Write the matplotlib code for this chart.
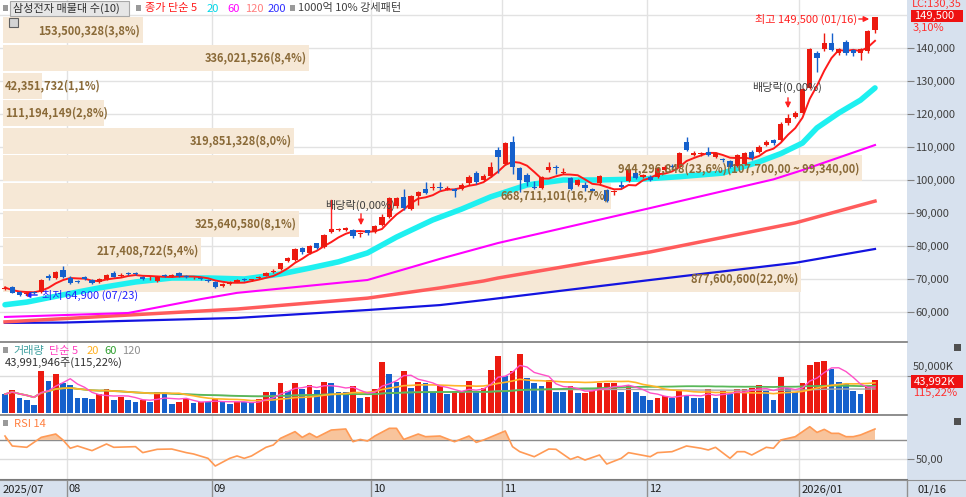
import numpy as np
import pandas as pd
import matplotlib
matplotlib.use("Agg")
import matplotlib.pyplot as plt
from matplotlib.patches import Rectangle

plt.rcParams['font.family'] = ['Noto Sans CJK KR', 'DejaVu Sans']

W, H = 966, 497

# daily candles 2025/07 ~ 2026/01/16, thousand KRW
opens = [67.0, 67.6, 66.0, 65.4, 65.9, 66.0, 70.8, 70.2, 72.7, 70.3,
         69.4, 70.6, 69.7, 69.1, 70.0, 71.8, 71.0, 71.8, 71.7, 70.7,
         70.2, 69.3, 71.2, 70.8, 71.8, 70.9, 70.2, 70.2, 69.8, 69.0,
         67.8, 68.6, 69.2, 70.0, 69.6, 70.2, 71.0, 72.2, 73.0, 75.5,
         75.9, 79.4, 78.0, 80.8, 79.8, 84.2, 84.9, 84.9, 85.0, 83.5,
         84.7, 84.3, 86.5, 88.8, 92.0, 95.0, 91.3, 95.2, 97.3, 97.5,
         98.0, 97.4, 97.2, 97.3, 99.0, 102.0, 100.0, 101.3, 109.1, 104.8,
         111.6, 103.5, 101.5, 97.9, 97.7, 103.0, 103.9, 102.0, 100.5, 98.5,
         98.5, 97.2, 99.0, 97.0, 96.3, 98.5, 99.7, 102.1, 100.9, 101.0,
         101.0, 103.0, 104.3, 104.0, 111.6, 107.6, 108.0, 108.6, 107.1, 106.3,
         105.9, 104.2, 104.8, 108.6, 108.6, 110.6, 112.1, 112.1, 117.2, 119.2,
         120.3, 128.0, 138.4, 139.6, 141.6, 138.4, 141.9, 139.4, 138.4, 139.0,
         145.5]
highs = [67.8, 67.9, 66.3, 65.9, 66.3, 70.0, 71.6, 72.3, 74.0, 70.8,
         69.8, 71.0, 70.0, 70.2, 71.5, 72.3, 71.8, 72.2, 72.0, 70.9,
         70.9, 70.9, 71.5, 71.4, 72.1, 71.2, 70.7, 70.5, 70.1, 69.3,
         68.7, 69.3, 70.1, 70.3, 70.1, 70.9, 72.0, 73.0, 75.0, 76.8,
         79.3, 79.8, 80.3, 81.0, 83.7, 85.4, 85.5, 85.8, 85.3, 84.3,
         85.0, 86.3, 89.6, 94.8, 95.0, 97.4, 95.5, 96.8, 99.4, 99.2,
         99.5, 98.2, 97.5, 99.0, 101.5, 102.8, 101.8, 105.5, 110.1, 111.5,
         113.3, 104.0, 102.0, 99.8, 101.3, 105.6, 104.4, 103.5, 100.9, 100.3,
         99.4, 97.5, 101.6, 97.3, 97.0, 99.8, 103.4, 102.5, 101.9, 101.4,
         104.0, 104.5, 104.8, 108.6, 113.0, 108.9, 108.6, 110.0, 108.5, 106.7,
         106.2, 107.9, 108.5, 109.0, 110.5, 112.0, 112.5, 117.5, 120.0, 120.8,
         128.0, 140.0, 139.0, 144.4, 144.4, 140.0, 142.5, 139.8, 140.0, 145.4,
         149.5]
lows = [66.7, 65.7, 64.9, 65.0, 65.4, 65.9, 69.8, 69.9, 70.3, 68.5,
        68.7, 69.8, 68.6, 68.9, 69.8, 70.5, 70.6, 71.2, 71.1, 69.8,
        69.8, 69.0, 70.5, 70.5, 70.7, 70.2, 70.0, 69.6, 69.2, 67.3,
        67.5, 68.3, 69.0, 69.3, 69.3, 70.0, 70.8, 71.9, 72.8, 75.2,
        75.6, 77.5, 77.7, 79.1, 79.5, 83.9, 84.6, 84.6, 82.4, 82.8,
        83.4, 84.0, 86.2, 88.5, 91.5, 91.0, 90.9, 92.5, 95.8, 97.0,
        96.9, 97.0, 94.8, 97.0, 98.5, 98.8, 99.6, 101.0, 102.0, 104.5,
        101.7, 96.5, 98.3, 97.3, 97.4, 102.4, 101.8, 101.8, 97.0, 98.2,
        96.6, 96.3, 98.6, 93.4, 95.6, 97.6, 99.4, 100.2, 100.5, 99.6,
        100.7, 102.6, 103.2, 103.6, 108.7, 107.2, 107.4, 107.2, 106.8, 105.5,
        103.6, 103.9, 104.5, 106.2, 108.2, 110.2, 110.7, 111.8, 116.8, 118.8,
        120.0, 127.6, 132.8, 139.2, 139.0, 137.8, 138.0, 137.6, 136.4, 138.6,
        144.5]
closes = [67.4, 65.9, 65.3, 65.6, 65.7, 69.7, 70.4, 72.0, 70.6, 68.8,
          69.1, 70.0, 68.9, 70.0, 71.3, 70.7, 71.2, 71.4, 71.4, 70.1,
          70.4, 70.6, 70.8, 71.1, 70.9, 70.5, 70.4, 69.9, 69.4, 67.6,
          68.5, 69.0, 69.8, 69.6, 69.9, 70.7, 71.8, 72.5, 74.8, 76.3,
          79.0, 78.1, 79.9, 79.4, 83.4, 85.1, 85.2, 85.4, 83.0, 84.0,
          83.9, 86.0, 88.9, 94.4, 94.5, 91.6, 95.1, 96.3, 96.2, 97.8,
          97.5, 97.7, 96.6, 98.6, 100.9, 99.3, 101.3, 104.0, 107.1, 111.1,
          104.0, 100.0, 99.5, 97.6, 101.0, 104.0, 103.5, 102.4, 97.3, 100.0,
          97.7, 96.8, 101.2, 93.7, 96.5, 98.0, 103.0, 100.6, 101.5, 100.0,
          103.6, 104.0, 103.8, 108.2, 109.1, 108.1, 108.1, 107.6, 108.1, 106.0,
          104.0, 107.5, 108.1, 106.6, 110.1, 111.6, 111.1, 117.0, 118.7, 120.2,
          127.5, 139.6, 136.9, 141.4, 139.4, 139.6, 138.4, 138.4, 139.6, 145.0,
          149.5]

# volume, million shares, and bar colour (r up / b down)
volume = [25.8, 31.5, 21.3, 18.2, 11.5, 56.8, 43.5, 52.4, 41.3, 37.7,
          21.3, 21.3, 19.1, 25.8, 32.4, 17.8, 22.6, 17.8, 15.5, 18.2,
          14.7, 28.0, 26.6, 12.4, 15.1, 19.1, 14.2, 15.5, 14.7, 19.1,
          16.0, 13.3, 15.1, 14.7, 13.8, 19.5, 28.0, 28.0, 40.4, 30.2,
          40.4, 33.3, 37.7, 31.5, 42.2, 40.4, 28.0, 28.0, 36.9, 21.3,
          22.6, 32.4, 68.8, 52.4, 42.2, 56.8, 34.6, 42.2, 41.3, 28.9,
          36.0, 25.8, 28.0, 28.0, 43.5, 30.2, 33.7, 57.7, 76.8, 50.2,
          56.8, 79.0, 47.1, 40.4, 36.9, 44.4, 28.9, 28.9, 36.9, 27.1,
          27.1, 30.2, 40.4, 40.4, 41.3, 28.9, 37.7, 28.0, 23.5, 18.6,
          21.3, 23.5, 20.4, 30.2, 24.9, 21.3, 20.4, 33.3, 21.3, 30.2,
          26.6, 32.0, 32.0, 34.6, 37.7, 30.2, 18.6, 48.8, 33.7, 28.0,
          41.3, 64.4, 68.8, 70.2, 59.1, 42.2, 39.1, 30.2, 25.8, 36.9,
          43.99]
vol_dir = ("brbbbrbrbb" "bbbrrbrbbr" "brbbrrbrbr" "bbrbbrrbrb" "rbrbrbbbrb"
           "rrrbbrbrbb" "rbrrrbrrrb" "rrbbbrbbrb" "rrrrrbrbbb" "rrbrbbbrbr"
           "brrrrbbrbb" "rrrrbbbbbrr")

# moving averages (bar index, thousand KRW)
ma20_idx = [0, 3, 8, 13, 18, 23, 28, 33, 38, 42, 46, 50, 54, 59, 63, 67, 72,
            77, 82, 88, 93, 99, 104, 107, 110, 112, 115, 118, 120]
ma20_val = [62.2, 63.0, 65.2, 67.3, 69.1, 70.3, 70.3, 70.0, 71.5, 73.3, 75.2,
            77.9, 82.7, 87.9, 91.2, 94.9, 98.5, 100.0, 100.0, 100.3, 101.0,
            102.1, 105.5, 108.0, 111.2, 115.8, 120.3, 124.2, 127.9]
ma60_idx = [0, 17, 27, 32, 50, 60, 68, 89, 106, 110, 120]
ma60_val = [58.5, 59.7, 63.9, 65.8, 69.7, 76.1, 80.9, 91.5, 100.2, 103.0, 110.6]
ma120_idx = [0, 32, 50, 60, 66, 68, 89, 109, 120]
ma120_val = [57.0, 60.9, 64.2, 67.3, 69.4, 70.3, 78.2, 87.0, 93.6]
ma200_idx = [0, 8, 32, 50, 60, 66, 89, 109, 120]
ma200_val = [56.7, 56.8, 58.2, 60.6, 62.1, 63.6, 69.7, 74.9, 79.1]

# RSI 14
rsi_idx = [0, 1, 3, 5, 7, 8, 9, 10, 12, 14, 15, 18, 19, 21, 23, 25, 26, 28, 29, 31,
           32, 33, 34, 36, 37, 38, 40, 41, 42, 43, 45, 47, 48, 49, 50, 51, 53, 54, 55, 57,
           58, 60, 62, 64, 65, 66, 69, 70, 71, 73, 75, 76, 78, 79, 80, 82, 83, 85, 86, 89,
           90, 92, 94, 96, 97, 98, 100, 101, 102, 103, 105, 106, 107, 109, 111, 112, 113,
           114, 115, 116, 117, 118, 120]
rsi_val = [74.2, 63.7, 62.3, 72.8, 76.3, 70.0, 61.3, 63.7, 58.8, 65.8, 62.3, 63.0, 56.7,
           60.2, 60.5, 56.7, 55.3, 50.7, 42.6, 50.7, 53.2, 50.7, 53.2, 62.3, 64.7, 71.8,
           78.8, 72.8, 77.0, 72.8, 80.5, 81.6, 68.2, 70.6, 68.9, 74.2, 82.3, 82.3, 70.6,
           76.3, 73.5, 74.2, 68.2, 74.2, 67.5, 70.0, 79.5, 63.0, 57.7, 52.4, 60.5, 60.2,
           49.6, 52.4, 48.9, 54.2, 44.7, 50.7, 56.7, 52.4, 56.7, 57.7, 63.7, 61.3, 59.5,
           62.3, 50.7, 57.7, 57.7, 54.2, 62.3, 61.3, 70.0, 73.5, 84.0, 78.0, 81.2, 77.0,
           77.0, 73.5, 73.5, 75.3, 81.6]

# volume profile (매물대 10 bands)
band_low = [65.90, 74.26, 82.62, 90.98, 99.34, 107.70, 116.06, 124.42, 132.78, 141.14]
band_step = 8.36
band_vol = [877600600, 217408722, 325640580, 668711101, 944296848,
            319851328, 111194149, 42351732, 336021526, 153500328]
band_pct = [22.0, 5.4, 8.1, 16.7, 23.6, 8.0, 2.8, 1.1, 8.4, 3.8]

month_idx = [9, 29, 51, 69, 89, 110]
month_lab = ['08', '09', '10', '11', '12', '2026/01']
price_ticks = [60, 70, 80, 90, 100, 110, 120, 130, 140]

UP = '#ec1a10'
DOWN = '#1560cc'


def rect(x0, y0, x1, y1):
    return [x0 / W, 1 - y1 / H, (x1 - x0) / W, (y1 - y0) / H]


def fx(x):
    return x / W


def fy(y):
    return 1 - y / H


fig = plt.figure(figsize=(W / 100, H / 100), dpi=100)
fig.patch.set_facecolor('white')

# background strips
side = fig.add_axes(rect(907, 0, 966, 480))
side.set_facecolor('#d7e1ee')
side.set_xticks([]); side.set_yticks([])
for s in side.spines.values():
    s.set_visible(False)
side.set_zorder(-1)

bottom = fig.add_axes(rect(0, 480, 966, 497))
bottom.set_facecolor('#d7e1ee')
bottom.set_xlim(0, W); bottom.set_ylim(0, 1)
bottom.set_xticks([]); bottom.set_yticks([])
for s in bottom.spines.values():
    s.set_visible(False)
bottom.spines['top'].set_visible(True)
bottom.spines['top'].set_color('#909090')
bottom.set_zorder(-1)

axp = fig.add_axes(rect(0, 0, 907, 341))
axv = fig.add_axes(rect(0, 342, 907, 414))
axr = fig.add_axes(rect(0, 415, 907, 479))

x = np.arange(len(closes))
xlim = (-5 / 7.25, (907 - 5) / 7.25)
grid_x = [m - 0.45 for m in month_idx]

for ax in (axp, axv, axr):
    ax.set_xlim(*xlim)
    ax.set_xticks([])
    for s in ax.spines.values():
        s.set_visible(False)
    ax.yaxis.tick_right()
    ax.tick_params(axis='y', direction='out', length=5, width=0.8, color='#808080',
                   labelsize=8, labelcolor='#404040', pad=1)
    for g in grid_x:
        ax.axvline(g, color='#e2e2e2', lw=1, zorder=0)

for ax in (axv, axr):
    ax.spines['top'].set_visible(True)
    ax.spines['top'].set_color('#7a7a7a')
    ax.spines['top'].set_linewidth(1.2)
axr.spines['bottom'].set_visible(True)
axr.spines['bottom'].set_color('#7a7a7a')

# ---- price panel ----
axp.set_ylim(140 - 293 * 0.30303, 140 + 48 * 0.30303)
axp.set_yticks(price_ticks)
axp.set_yticklabels([f"{v * 1000:,}" for v in price_ticks])
for v in price_ticks + [150]:
    axp.axhline(v, color='#e2e2e2', lw=1, zorder=0)

scale = 118.5 / max(band_vol)
band_left = -0.28
for lo, v, p in zip(band_low, band_vol, band_pct):
    wdt = v * scale
    axp.barh(lo + band_step / 2, wdt, left=band_left, height=band_step - 0.5,
             color='#f6e8d6', zorder=1)
    label = f"{v:,}(" + f"{p:.1f}".replace('.', ',') + "%)"
    if v == max(band_vol):
        label += f"({(lo + band_step) * 1000:,.0f},00 ~ {lo * 1000:,.0f},00)"
    if wdt < 14:
        axp.text(band_left + 0.3, lo + band_step / 2, label, ha='left', va='center',
                 fontsize=8, fontweight='bold', color='#8a6a38', zorder=6)
    else:
        axp.text(band_left + wdt - 0.3, lo + band_step / 2, label, ha='right',
                 va='center', fontsize=8, fontweight='bold', color='#8a6a38', zorder=6)

axp.plot(ma200_idx, ma200_val, color='#1414e0', lw=1.6, zorder=2)
axp.plot(ma120_idx, ma120_val, color='#ff5c5c', lw=2.5, zorder=2)
axp.plot(ma60_idx, ma60_val, color='#ff00ff', lw=1.5, zorder=2)
axp.plot(ma20_idx, ma20_val, color='#1ef0f0', lw=4, zorder=2, solid_capstyle='round')
ma5 = pd.Series(closes).rolling(5, min_periods=1).mean()
axp.plot(x, ma5, color='#ff1a1a', lw=1.4, zorder=3)

o = np.array(opens); c = np.array(closes)
cols = np.where(c >= o, UP, DOWN)
axp.vlines(x, lows, highs, colors=cols, lw=1, zorder=4)
axp.bar(x, np.maximum(np.abs(c - o), 0.25), bottom=np.minimum(o, c), width=0.72,
        color=cols, zorder=4)

# annotations
axp.annotate('', xy=(872, H - 19), xytext=(856, H - 19), xycoords='figure pixels',
             arrowprops=dict(arrowstyle='-|>', color='#ff2020', lw=1, mutation_scale=8))
fig.text(fx(755), fy(19), '최고 149,500 (01/16)', color='#ff2020', fontsize=8, va='center')
axp.annotate('', xy=(22, H - 295), xytext=(40, H - 295), xycoords='figure pixels',
             arrowprops=dict(arrowstyle='-|>', color='#2020ff', lw=1, mutation_scale=8))
fig.text(fx(42), fy(295), '최저 64,900 (07/23)', color='#2020ff', fontsize=8, va='center')
fig.text(fx(325), fy(205), '배당락(0,00%)', color='#404040', fontsize=8, va='center')
axp.annotate('', xy=(361, H - 228), xytext=(361, H - 211), xycoords='figure pixels',
             arrowprops=dict(arrowstyle='-|>', color='#ff2020', lw=1, mutation_scale=8))
fig.add_artist(plt.Line2D([fx(331), fx(331)], [fy(200), fy(230)], color='#ff2020', lw=1))
fig.text(fx(752), fy(87), '배당락(0,00%)', color='#404040', fontsize=8, va='center')
axp.annotate('', xy=(788, H - 111), xytext=(788, H - 95), xycoords='figure pixels',
             arrowprops=dict(arrowstyle='-|>', color='#ff2020', lw=1, mutation_scale=8))

# ---- volume panel ----
axv.set_ylim(-0.67, 95.3)
axv.axhline(50, color='#dcdcdc', lw=1, zorder=0)
vcols = [UP if d == 'r' else DOWN for d in vol_dir]
axv.bar(x, volume, width=0.76, color=vcols, zorder=2)
vs = pd.Series(volume)
axv.plot(x, vs.rolling(120, min_periods=1).mean(), color='#a8a8a8', lw=1, zorder=3)
axv.plot(x, vs.rolling(60, min_periods=1).mean(), color='#58b858', lw=1.3, zorder=3)
axv.plot(x, vs.rolling(20, min_periods=1).mean(), color='#ffb428', lw=1.2, zorder=3)
axv.plot(x, vs.rolling(5, min_periods=1).mean(), color='#ff50c8', lw=1, zorder=3)
axv.set_yticks([50])
axv.set_yticklabels([''])
fig.text(fx(913), fy(367), '50,000K', fontsize=8, color='#404040', va='center')

# ---- RSI panel ----
axr.set_ylim(70 - 39 / 0.95, 70 + 25 / 0.95)
axr.axhline(50, color='#dcdcdc', lw=1, zorder=0)
axr.axhline(70, color='#8c8c8c', lw=1, zorder=1)
rv = np.array(rsi_val)
axr.fill_between(rsi_idx, rv, 70, where=rv > 70, interpolate=True,
                 color='#f8c49c', zorder=2, lw=0)
axr.plot(rsi_idx, rv, color='#ff9a55', lw=1.2, zorder=3)
axr.set_yticks([50])
axr.set_yticklabels(['50,00'])

# ---- date strip ----
bottom.text(3, 0.45, '2025/07', fontsize=8, color='#202020', va='center')
for m, lab in zip(month_idx, month_lab):
    px = 5 + 7.25 * (m - 0.45)
    bottom.axvline(px, color='#909090', lw=1)
    bottom.text(px + 2, 0.45, lab, fontsize=8, color='#202020', va='center')
bottom.axvline(907, color='#909090', lw=1)
bottom.text(918, 0.45, '01/16', fontsize=8, color='#202020', va='center')


# ---- legends and value boxes ----
def square(x0, y0, col='#9a9a9a'):
    fig.add_artist(Rectangle((fx(x0), fy(y0 + 6)), 5 / W, 6 / H, transform=fig.transFigure,
                             fc=col, ec='none'))


square(3, 5)
fig.add_artist(Rectangle((fx(10), fy(16)), 119 / W, 15 / H, transform=fig.transFigure,
                         fc='#e6e6e6', ec='#a8a8a8', lw=0.8))
fig.text(fx(13), fy(8.5), '삼성전자 매물대 수(10)', fontsize=8, color='#303030', va='center')
square(136, 5)
legend_items = [(145, '종가 단순 5', '#ff1a1a'), (207, '20', '#00d8e8'),
                (227, '60', '#ff00ff'), (245, '120', '#ff7f7f'), (268, '200', '#3030ff')]
for lx, s, col in legend_items:
    fig.text(fx(lx), fy(8.5), s, fontsize=8, color=col, va='center')
square(290, 5)
fig.text(fx(298), fy(8.5), '1000억 10% 강세패턴', fontsize=8, color='#404040', va='center')
fig.add_artist(Rectangle((fx(9), fy(27)), 9 / W, 9 / H, transform=fig.transFigure,
                         fc='#d4d4d4', ec='#606060', lw=0.8))

square(3, 347)
vol_items = [(13, '거래량', '#3fa0a0'), (49, '단순 5', '#ff40c0'), (87, '20', '#ffb020'),
             (104, '60', '#30a030'), (122, '120', '#909090')]
for lx, s, col in vol_items:
    fig.text(fx(lx), fy(351), s, fontsize=8, color=col, va='center')
fig.text(fx(5), fy(363), '43,991,946주(115,22%)', fontsize=8, color='#303030', va='center')

square(3, 420)
fig.text(fx(14), fy(424), 'RSI 14', fontsize=8, color='#ff8040', va='center')

fig.text(fx(912), fy(4), 'LC:130,35', fontsize=8, color='#ff3030', va='center')
fig.add_artist(Rectangle((fx(911), fy(22)), 52 / W, 12 / H, transform=fig.transFigure,
                         fc='#ee1111', ec='none'))
fig.text(fx(914), fy(16), '149,500', fontsize=8, color='white', va='center')
fig.text(fx(913), fy(28), '3,10%', fontsize=8, color='#ff3030', va='center')

fig.add_artist(Rectangle((fx(911), fy(388)), 52 / W, 13 / H, transform=fig.transFigure,
                         fc='#ee1111', ec='none'))
fig.text(fx(914), fy(381.5), '43,992K', fontsize=8, color='white', va='center')
fig.text(fx(913), fy(393), '115,22%', fontsize=8, color='#ff3030', va='center')

for iy in (344, 418):
    fig.add_artist(Rectangle((fx(954), fy(iy + 7)), 7 / W, 7 / H, transform=fig.transFigure,
                             fc='#505050', ec='none'))

fig.savefig('out.png', dpi=100)
